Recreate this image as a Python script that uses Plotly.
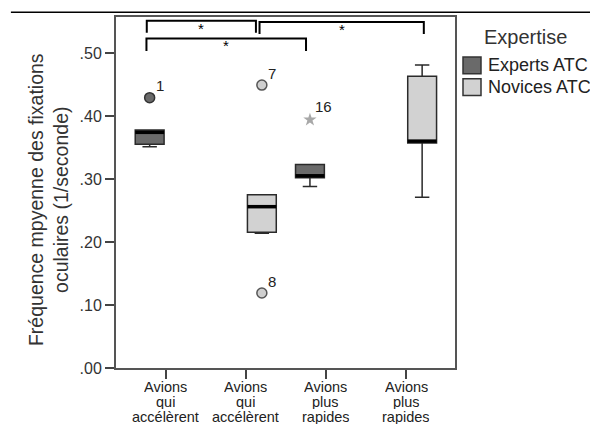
import plotly.graph_objects as go

# ---------------- data ----------------
tick_lines = [
    ["Avions", "qui", "accélèrent"],
    ["Avions", "qui", "accélèrent"],
    ["Avions", "plus", "rapides"],
    ["Avions", "plus", "rapides"],
]
cat_index = [0, 1, 2, 3]

groups = ["Experts ATC", "Novices ATC"]

# Experts ATC (categories 0 and 2)
exp_cat = [0, 2]
exp_lower = [0.351, 0.288]
exp_q1 = [0.355, 0.302]
exp_med = [0.374, 0.305]
exp_q3 = [0.3775, 0.323]
exp_upper = [0.3775, 0.323]

# Novices ATC (categories 1 and 3)
nov_cat = [1, 3]
nov_lower = [0.214, 0.271]
nov_q1 = [0.2155, 0.357]
nov_med = [0.256, 0.360]
nov_q3 = [0.275, 0.463]
nov_upper = [0.275, 0.481]

# outliers: (category, value, label)
exp_out_cat = [0]
exp_out_val = [0.429]
exp_out_lab = ["1"]
exp_ext_cat = [2]
exp_ext_val = [0.394]
exp_ext_lab = ["16"]
nov_out_cat = [1, 1]
nov_out_val = [0.449, 0.119]
nov_out_lab = ["7", "8"]

# significance brackets
br_x0 = [-0.236, 1.171, -0.24]
br_x1 = [1.126, 3.221, 1.751]
br_top = [0.551, 0.549, 0.523]
br_leg = [0.532, 0.530, 0.503]
br_text = ["*", "*", "*"]

y_ticks = [0.0, 0.1, 0.2, 0.3, 0.4, 0.5]
y_ticklabels = [".00", ".10", ".20", ".30", ".40", ".50"]

# ---------------- style ----------------
FONT = "Liberation Sans"
EXP_COL = "#6a6a6a"
NOV_COL = "#d2d2d2"
OUTLINE = "#2a2a2a"
OFF = 0.2
BW = 0.36

fig = go.Figure()

def add_boxes(cats, lo, q1, med, q3, up, off, fill, name):
    xs = [c + off for c in cats]
    fig.add_trace(go.Box(
        x=xs, lowerfence=lo, q1=q1, median=med, q3=q3, upperfence=up,
        width=BW, whiskerwidth=0.5, fillcolor=fill,
        line=dict(color=OUTLINE, width=1.5), name=name,
        showlegend=False, hoverinfo="skip", boxpoints=False,
    ))
    for x, m in zip(xs, med):
        fig.add_shape(type="line", xref="x", yref="y",
                      x0=x - BW / 2, x1=x + BW / 2, y0=m, y1=m,
                      line=dict(color="black", width=3.5))

add_boxes(exp_cat, exp_lower, exp_q1, exp_med, exp_q3, exp_upper, -OFF, EXP_COL, groups[0])
add_boxes(nov_cat, nov_lower, nov_q1, nov_med, nov_q3, nov_upper, OFF, NOV_COL, groups[1])

# outliers
fig.add_trace(go.Scatter(
    x=[c - OFF for c in exp_out_cat], y=exp_out_val, mode="markers",
    marker=dict(symbol="circle", size=10, color=EXP_COL, line=dict(color="#333", width=1.5)),
    showlegend=False, hoverinfo="skip"))
fig.add_trace(go.Scatter(
    x=[c - OFF for c in exp_ext_cat], y=exp_ext_val, mode="markers",
    marker=dict(symbol="star", size=10, color="#a8a8a8", line=dict(width=0)),
    showlegend=False, hoverinfo="skip"))
fig.add_trace(go.Scatter(
    x=[c + OFF for c in nov_out_cat], y=nov_out_val, mode="markers",
    marker=dict(symbol="circle", size=10, color="#cfcfcf", line=dict(color="#555", width=1.5)),
    showlegend=False, hoverinfo="skip"))

for cats, vals, labs, off, xs_, ys_ in [
    (exp_out_cat, exp_out_val, exp_out_lab, -OFF, 10, 12),
    (exp_ext_cat, exp_ext_val, exp_ext_lab, -OFF, 14, 13),
    (nov_out_cat, nov_out_val, nov_out_lab, OFF, 10, 12),
]:
    for c, v, t in zip(cats, vals, labs):
        fig.add_annotation(x=c + off, y=v, text=t, showarrow=False,
                           xshift=xs_, yshift=ys_,
                           font=dict(family=FONT, size=15, color="#222"))

# brackets
for x0, x1, yt, yl, t in zip(br_x0, br_x1, br_top, br_leg, br_text):
    fig.add_shape(type="path", xref="x", yref="y",
                  path=f"M {x0},{yl} L {x0},{yt} L {x1},{yt} L {x1},{yl}",
                  line=dict(color="black", width=2))
    fig.add_annotation(x=(x0 + x1) / 2, y=yt, text=t, showarrow=False,
                       yanchor="top", yshift=3,
                       font=dict(family=FONT, size=15, color="black"))

# x tick labels (three tight lines each)
line_shift = [-18.5, -33.5, -48.5]
for c, lines in zip(cat_index, tick_lines):
    for s, ln in zip(line_shift, lines):
        fig.add_annotation(x=c, y=0, xref="x", yref="paper", text=ln,
                           showarrow=False, yanchor="middle", yshift=s, height=15,
                           font=dict(family=FONT, size=14.5, color="#222"))

# y-axis title
fig.add_annotation(x=-0.199, y=0.48, xref="paper", yref="paper",
                   text="Fréquence mpyenne des fixations<br>oculaires (1/seconde)",
                   textangle=-90, showarrow=False, xanchor="center", yanchor="middle",
                   font=dict(family=FONT, size=19.5, color="#333"))

# legend (custom, SPSS style)
fig.add_annotation(x=1.2065, y=0.9426, xref="paper", yref="paper", text="Expertise",
                   showarrow=False, xanchor="center", yanchor="middle",
                   font=dict(family=FONT, size=20, color="#333"))
leg_cols = [EXP_COL, NOV_COL]
leg_y = [0.862, 0.800]
for g, col, yc in zip(groups, leg_cols, leg_y):
    fig.add_shape(type="rect", xref="paper", yref="paper",
                  x0=1.0236, x1=1.0767, y0=yc - 0.024, y1=yc + 0.024,
                  fillcolor=col, line=dict(color="#333", width=1.5))
    fig.add_annotation(x=1.0914, y=yc, xref="paper", yref="paper", text=g,
                       showarrow=False, xanchor="left", yanchor="middle",
                       font=dict(family=FONT, size=18, color="#222"))

# top rule line across the figure
fig.add_shape(type="line", xref="paper", yref="paper",
              x0=-0.31, x1=1.43, y0=1.0135, y1=1.0135,
              line=dict(color="black", width=1.5))

fig.update_layout(
    width=590, height=417,
    margin=dict(l=108, r=143, t=7, b=57),
    paper_bgcolor="white", plot_bgcolor="white",
    showlegend=False,
    font=dict(family=FONT, color="#333"),
    xaxis=dict(range=[-0.62, 3.61], tickvals=cat_index, showticklabels=False,
               ticks="outside", ticklen=9, tickwidth=2, tickcolor="#444",
               showline=True, linecolor="#555", linewidth=2, mirror=True,
               showgrid=False, zeroline=False, fixedrange=True),
    yaxis=dict(range=[0, 0.557], tickvals=y_ticks, ticktext=y_ticklabels,
               ticks="outside", ticklen=9, tickwidth=2, tickcolor="#444",
               tickfont=dict(family=FONT, size=16, color="#333"),
               showline=True, linecolor="#555", linewidth=2, mirror=True,
               showgrid=False, zeroline=False, fixedrange=True),
)

fig.write_html("out.html")
